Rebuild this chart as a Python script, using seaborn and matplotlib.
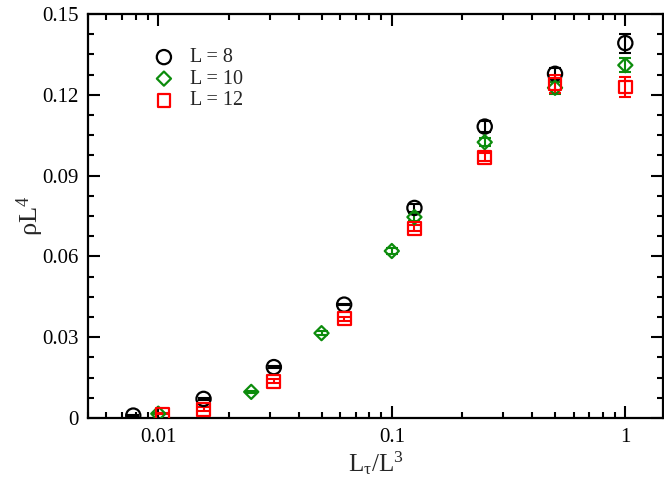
import numpy as np
import pandas as pd
import matplotlib
matplotlib.use("Agg")
import matplotlib.pyplot as plt
import seaborn as sns
from matplotlib.ticker import MultipleLocator, LogLocator, NullFormatter, FixedLocator, FixedFormatter

# ---- data ----
x_L8 = [0.0078125, 0.015625, 0.03125, 0.0625, 0.125, 0.25, 0.5, 1.0]
y_L8 = [0.0009, 0.0071, 0.0189, 0.0421, 0.0780, 0.1082, 0.1278, 0.1392]
e_L8 = [0.0002, 0.0003, 0.0003, 0.0003, 0.0015, 0.0020, 0.0020, 0.0035]

x_L10 = [0.01, 0.025, 0.05, 0.1, 0.125, 0.25, 0.5, 1.0]
y_L10 = [0.0016, 0.0097, 0.0315, 0.0620, 0.0746, 0.1024, 0.1226, 0.1310]
e_L10 = [0.0003, 0.0003, 0.0008, 0.0012, 0.0015, 0.0015, 0.0022, 0.0025]

x_L12 = [0.0104, 0.015625, 0.03125, 0.0625, 0.125, 0.25, 0.5, 1.0]
y_L12 = [0.0015, 0.0033, 0.0137, 0.0368, 0.0705, 0.0968, 0.1240, 0.1229]
e_L12 = [0.0002, 0.0006, 0.0008, 0.0008, 0.0010, 0.0015, 0.0035, 0.0036]

labels = ["L = 8", "L = 10", "L = 12"]
colors = ["#000000", "#0c8c0c", "#ff0000"]
markers = ["o", "D", "s"]
sizes = [105, 52, 85]

yticks = [0, 0.03, 0.06, 0.09, 0.12, 0.15]
ytick_labels = ["0", "0.03", "0.06", "0.09", "0.12", "0.15"]
xticks = [0.01, 0.1, 1]
xtick_labels = ["0.01", "0.1", "1"]

# ---- style ----
sns.set_style("ticks")
plt.rcParams["font.family"] = ["Liberation Serif", "DejaVu Serif"]
plt.rcParams["mathtext.fontset"] = "custom"
plt.rcParams["mathtext.rm"] = "Liberation Serif"
plt.rcParams["mathtext.it"] = "Liberation Serif:italic"
plt.rcParams["mathtext.bf"] = "Liberation Serif:bold"

fig = plt.figure(figsize=(6.64, 4.80), dpi=100)
ax = fig.add_axes([88/664, 1-418/480, (663-88)/664, (418-14)/480])

series = [(x_L8, y_L8, e_L8), (x_L10, y_L10, e_L10), (x_L12, y_L12, e_L12)]
for (xs, ys, es), lab, c, m, s in zip(series, labels, colors, markers, sizes):
    df = pd.DataFrame({"x": xs, "y": ys, "e": es})
    ax.errorbar(df["x"], df["y"], yerr=df["e"], fmt="none", ecolor=c,
                elinewidth=1.5, capsize=4.5, capthick=1.5, zorder=2)
    sns.scatterplot(data=df, x="x", y="y", ax=ax, marker=m, s=s, color=c,
                    facecolor="none", edgecolor=c, linewidth=1.6, label=lab,
                    zorder=3)

ax.set_xscale("log")
ax.set_xlim(0.005, 1.45)
ax.set_ylim(0, 0.15)

ax.xaxis.set_major_locator(FixedLocator(xticks))
ax.xaxis.set_major_formatter(FixedFormatter(xtick_labels))
ax.xaxis.set_minor_locator(LogLocator(base=10, subs=np.arange(2, 10)))
ax.xaxis.set_minor_formatter(NullFormatter())
ax.yaxis.set_major_locator(FixedLocator(yticks))
ax.yaxis.set_major_formatter(FixedFormatter(ytick_labels))
ax.yaxis.set_minor_locator(MultipleLocator(0.0075))

ax.tick_params(which="both", direction="in", top=True, right=True,
               width=1.5, labelsize=15, colors="black")
ax.tick_params(which="major", length=8.5, pad=7)
ax.tick_params(which="minor", length=4.5)
for sp in ax.spines.values():
    sp.set_visible(True)
    sp.set_linewidth(1.6)
    sp.set_color("black")

ax.set_xlabel(r"L$_\mathrm{τ}$/L$^\mathrm{3}$", fontsize=18, labelpad=2)
ax.set_ylabel(r"ρL$^\mathrm{4}$", fontsize=19, labelpad=-3)

leg = ax.legend(loc="upper left", bbox_to_anchor=(0.09, 0.95), frameon=False,
                fontsize=14.5, handlelength=1.0, handletextpad=0.8,
                labelspacing=0.12, borderpad=0.2)

fig.savefig("out.png", dpi=100)
